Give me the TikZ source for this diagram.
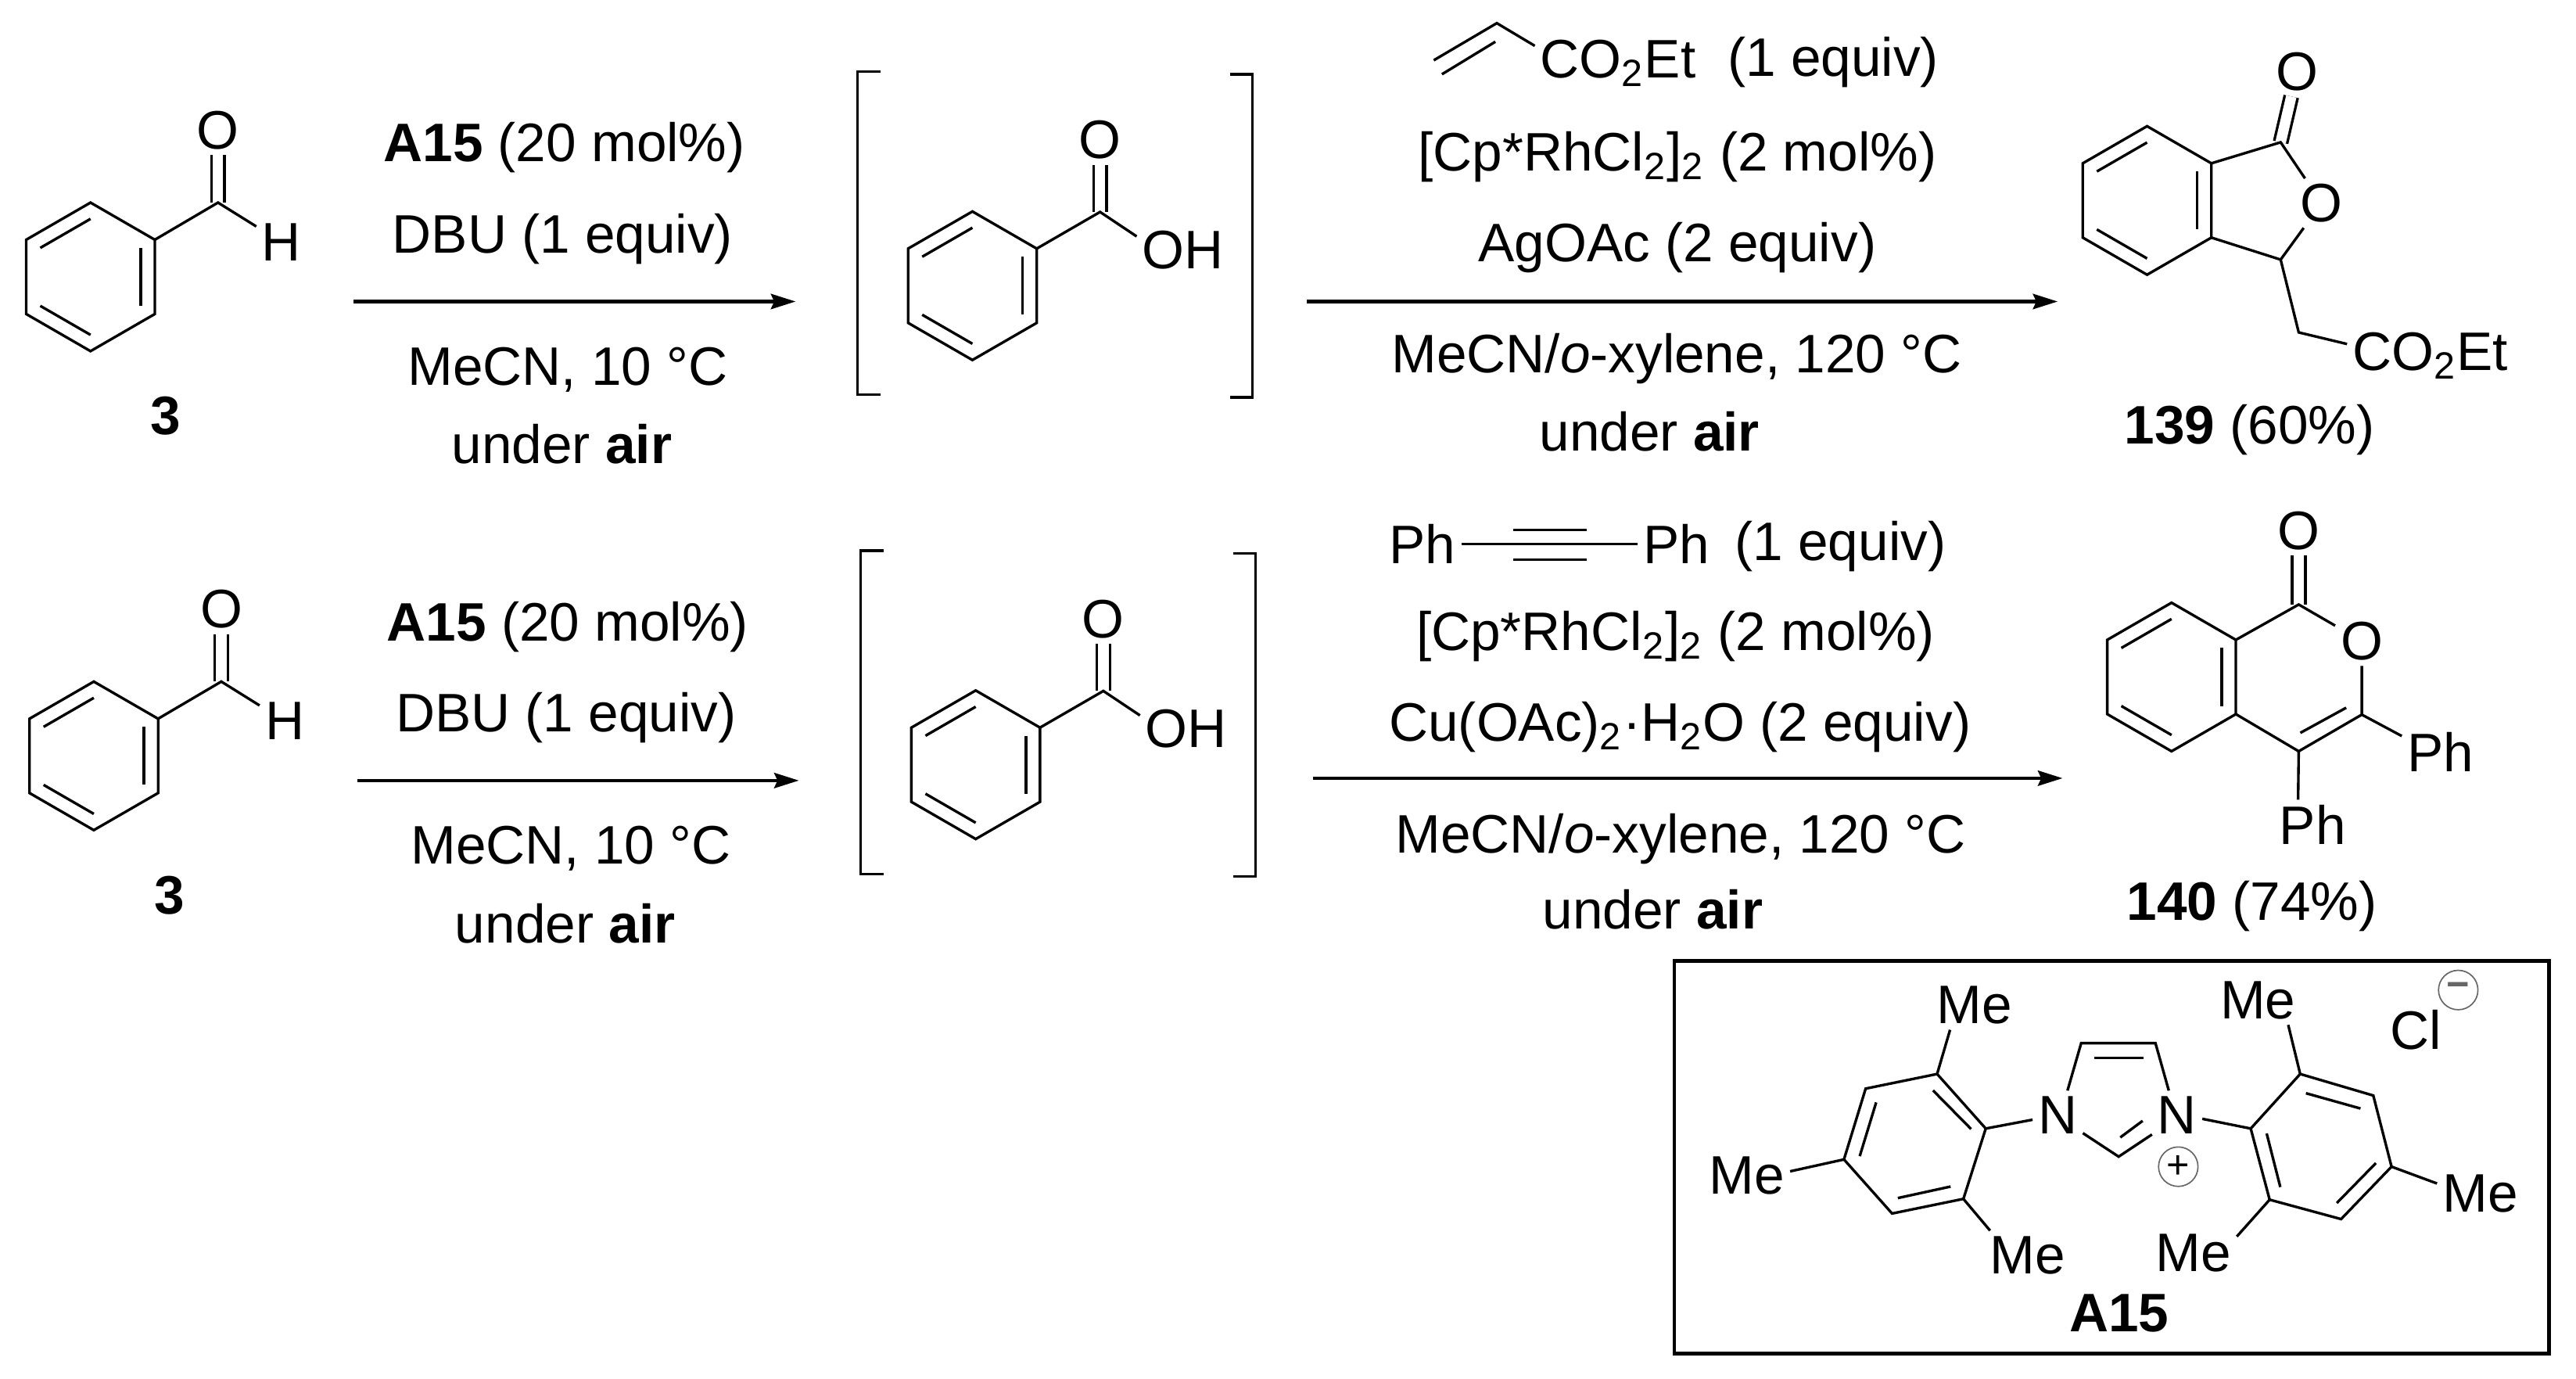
\documentclass[tikz,border=0pt]{standalone}
\usepackage{fontspec}
\setmainfont{Liberation Sans}
\usetikzlibrary{positioning,arrows.meta}

\tikzset{
  bond/.style={line width=.8pt},
  dbond/.style={bond,double,double distance=3.2pt},
  rxn/.style={line width=1.1pt,-{Stealth[length=7.5pt,width=4.6pt,inset=1pt]}},
  txt/.style={anchor=base,inner sep=0pt,font=\fontsize{16.5}{20}\selectfont},
  atom/.style={anchor=base,inner sep=1.5pt,font=\fontsize{16.5}{20}\selectfont},
  charge/.style={draw=black!60,line width=.4pt,circle,minimum size=12pt,inner sep=0pt,font=\fontsize{12}{12}\selectfont},
  benzring/.pic={
    \coordinate (-1) at (-90:45.2);
    \coordinate (-2) at (-30:45.2);
    \coordinate (-3) at (30:45.2);
    \coordinate (-4) at (90:45.2);
    \coordinate (-5) at (150:45.2);
    \coordinate (-6) at (210:45.2);
    \draw[bond] (-1) -- (-2) -- (-3) -- (-4) -- (-5) -- (-6) -- cycle;
    \draw[bond] (210:35.3) -- (-90:35.3);
    \draw[bond] (-30:35.3) -- (30:35.3);
    \draw[bond] (90:35.3) -- (150:35.3);
  },
  lefthalf/.pic={
    \pic (-ald) at (55.1,168.5) {benzring};
    \coordinate (-cho) at (132.7,123.3);
    \node[atom] (-oald) at (132.7,90.7) {O};
    \node[atom] (-h) at (171.3,158.7) {H};
    \draw[dbond] (-cho) -- (-oald);
    \draw[bond] (-ald-2) -- (-cho) -- (-h);
    \node[txt] (-name) at (101,264.5) {\textbf{3}};
    \coordinate (-s) at (215.3,183.5);
    \coordinate (-e) at (484.3,183.5);
    \draw[rxn] (-s) -- (-e);
    \node[txt] (-cat) at (343.5,98.4) {\textbf{A15} (20 mol\%)};
    \node[txt] (-base) at (342.5,153.9) {DBU (1 equiv)};
    \node[txt] (-solv) at (345.5,234.3) {MeCN, 10 °C};
    \node[txt] (-atm) at (342,282.2) {under \textbf{air}};
    \pic (-acid) at (591.9,173.9) {benzring};
    \coordinate (-coh) at (669.6,129);
    \node[atom] (-oacid) at (669.6,96.5) {O};
    \node[atom] (-oh) at (720,163.3) {OH};
    \draw[dbond] (-coh) -- (-oacid);
    \draw[bond] (-acid-2) -- (-coh) -- (-oh.164);
    \draw[bond] (535.9,43.7) -| (521.8,240.3) -- (535.9,240.3);
    \draw[bond] (748.7,45.2) -| (762.2,241.8) -- (748.7,241.8);
  },
}

\begin{document}
\begin{tikzpicture}[x=.5pt,y=-.5pt]
  \useasboundingbox (0,0) rectangle (1568,839.2);
  \pic (rowA) at (0,0) {lefthalf};
  \pic (rowB) at (2,291.5) {lefthalf};

  \begin{scope}
    \coordinate (arrAs) at (795.4,183.5);
    \coordinate (arrAe) at (1252.5,183.5);
    \draw[rxn] (arrAs) -- (arrAe);
    \coordinate (acrA) at (872.7,36.7);
    \coordinate (acrB) at (911.1,14.1);
    \coordinate (acrC) at (877.7,45.2);
    \coordinate (acrD) at (910.2,25.4);
    \node[atom,anchor=base west] (acrEster) at (934.2,47.6) {CO\textsubscript{2}Et};
    \node[txt,base right=7.9pt of acrEster,yshift=.7pt] (acrEq) {(1 equiv)};
    \draw[bond] (acrA) -- (acrB) -- (acrEster.168);
    \draw[bond] (acrC) -- (acrD);
    \node[txt] (rhA) at (1021,104) {[Cp*RhCl\textsubscript{2}]\textsubscript{2} (2 mol\%)};
    \node[txt] (agA) at (1021,159.3) {AgOAc (2 equiv)};
    \node[txt] (solvA) at (1020.5,226.8) {MeCN/\textit{o}-xylene, 120 °C};
    \node[txt] (atmA) at (1004,274.2) {under \textbf{air}};

    \pic (ringA) at (1306.9,122) {benzring};
    \coordinate (lacC) at (1388.2,86.6);
    \coordinate (lacH) at (1388.2,158);
    \coordinate (lacCH) at (1399.2,202.3);
    \node[atom] (lacExo) at (1398.2,55) {O};
    \node[atom] (lacO) at (1413.2,135) {O};
    \node[atom,anchor=base west] (lacEster) at (1428.6,225.4) {CO\textsubscript{2}Et};
    \draw[dbond] (lacC) -- (lacExo);
    \draw[bond] (ringA-2) -- (lacC) -- (lacO) -- (lacH) -- (ringA-3);
    \draw[bond] (lacH) -- (lacCH) -- (lacEster.172);
    \node[txt] (prodA) at (1369.2,270.1) {\textbf{139} (60\%)};
  \end{scope}

  \begin{scope}
    \coordinate (arrBs) at (799.4,473.6);
    \coordinate (arrBe) at (1255.5,473.6);
    \draw[rxn] (arrBs) -- (arrBe);
    \node[atom,anchor=base west] (alkL) at (842.3,343.1) {Ph};
    \node[atom,anchor=base west] (alkR) at (997,343.1) {Ph};
    \node[txt,base right=5.75pt of alkR,yshift=1pt] (alkEq) {(1 equiv)};
    \coordinate (alkA) at (921.1,322.4);
    \coordinate (alkB) at (966,322.4);
    \coordinate (alkC) at (921.1,340.6);
    \coordinate (alkD) at (966,340.6);
    \draw[bond] (alkL) -- (alkR);
    \draw[bond] (alkA) -- (alkB);
    \draw[bond] (alkC) -- (alkD);
    \node[txt] (rhB) at (1019.9,396) {[Cp*RhCl\textsubscript{2}]\textsubscript{2} (2 mol\%)};
    \node[txt] (cuB) at (1022.6,451.2) {Cu(OAc)\textsubscript{2}·H\textsubscript{2}O (2 equiv)};
    \node[txt] (solvB) at (1022.9,519) {MeCN/\textit{o}-xylene, 120 °C};
    \node[txt] (atmB) at (1006,565.4) {under \textbf{air}};

    \pic (ringB) at (1321.8,412) {benzring};
    \coordinate (icoC) at (1399.2,367.9);
    \coordinate (icoP) at (1437.6,434.9);
    \coordinate (icoQ) at (1399.2,457.2);
    \coordinate (icoA) at (1428.1,430.7);
    \coordinate (icoB) at (1400.2,446);
    \node[atom] (icoExo) at (1399.2,334.2) {O};
    \node[atom] (icoO) at (1437.6,401.5) {O};
    \node[atom] (phP) at (1485.5,469.4) {Ph};
    \node[atom] (phQ) at (1407.7,514) {Ph};
    \draw[dbond] (icoC) -- (icoExo);
    \draw[bond] (ringB-2) -- (icoC) -- (icoO) -- (icoP) -- (icoQ) -- (ringB-3);
    \draw[bond] (icoA) -- (icoB);
    \draw[bond] (icoP) -- (phP.158);
    \draw[bond] (icoQ) -- (phQ.120);
    \node[txt] (prodB) at (1370.8,560) {\textbf{140} (74\%)};
  \end{scope}

  \begin{scope}
    \draw[line width=1.1pt] (1019.1,584.7) rectangle (1551.5,823.6);
    \node[atom] (nL) at (1252.5,689.8) {N};
    \node[atom] (nR) at (1325.2,689.8) {N};
    \node[atom] (me1) at (1201.9,623) {Me};
    \node[atom] (me2) at (1063.3,726.8) {Me};
    \node[atom] (me3) at (1234.3,775) {Me};
    \node[atom] (me4) at (1374.4,620) {Me};
    \node[atom] (me5) at (1509.7,737.5) {Me};
    \node[atom] (me6) at (1335.2,773.8) {Me};
    \node[atom] (cl) at (1470.6,638.6) {Cl};
    \node[charge] (plus) at (1325.9,710) {+};
    \node[charge,text=black!60] (minus) at (1496.3,602.5) {\textbf{−}};
    \node[txt] (catName) at (1289.9,810.2) {\textbf{A15}};

    \coordinate (imA) at (1266.8,634.8);
    \coordinate (imB) at (1312,634.8);
    \coordinate (imC) at (1289.6,703.9);
    \draw[bond] (nL.68) -- (imA) -- (imB) -- (nR.109);
    \draw[bond] (nL.-36) -- (imC) -- (nR.-142);
    \coordinate (imD) at (1274.6,643.7);
    \coordinate (imE) at (1304.9,643.7);
    \coordinate (imF) at (1290.6,692.2);
    \coordinate (imG) at (1304.2,682.1);
    \draw[bond] (imD) -- (imE);
    \draw[bond] (imF) -- (imG);

    \coordinate (mesL1) at (1179.1,653.6);
    \coordinate (mesL2) at (1208.7,686.8);
    \coordinate (mesL3) at (1195.1,729.6);
    \coordinate (mesL4) at (1151.7,738.5);
    \coordinate (mesL5) at (1122.4,705.6);
    \coordinate (mesL6) at (1135.6,662.5);
    \draw[bond] (mesL1) -- (mesL2) -- (mesL3) -- (mesL4) -- (mesL5) -- (mesL6) -- cycle;
    \draw[bond] (1176.6,663.6) -- (1199.8,687.1);
    \draw[bond] (1142,670.9) -- (1132,703.6);
    \draw[bond] (1155.2,729.1) -- (1187.3,722.1);
    \draw[bond] (mesL1) -- (me1.-135);
    \draw[bond] (mesL5) -- (me2.6);
    \draw[bond] (mesL3) -- (me3.147);
    \draw[bond] (mesL2) -- (nL.191);

    \coordinate (mesR1) at (1400.1,653.6);
    \coordinate (mesR2) at (1444.6,666.7);
    \coordinate (mesR3) at (1455.7,710);
    \coordinate (mesR4) at (1425,741.9);
    \coordinate (mesR5) at (1381.5,730.1);
    \coordinate (mesR6) at (1370,686.8);
    \draw[bond] (mesR1) -- (mesR2) -- (mesR3) -- (mesR4) -- (mesR5) -- (mesR6) -- cycle;
    \draw[bond] (1403.6,665.3) -- (1436.8,674.6);
    \draw[bond] (1446.2,707.8) -- (1422.4,732.1);
    \draw[bond] (1388,722.4) -- (1379.7,689.8);
    \draw[bond] (mesR1) -- (me4.-39);
    \draw[bond] (mesR3) -- (me5.167);
    \draw[bond] (mesR5) -- (me6.21);
    \draw[bond] (mesR6) -- (nR.-9);
  \end{scope}
\end{tikzpicture}
\end{document}
